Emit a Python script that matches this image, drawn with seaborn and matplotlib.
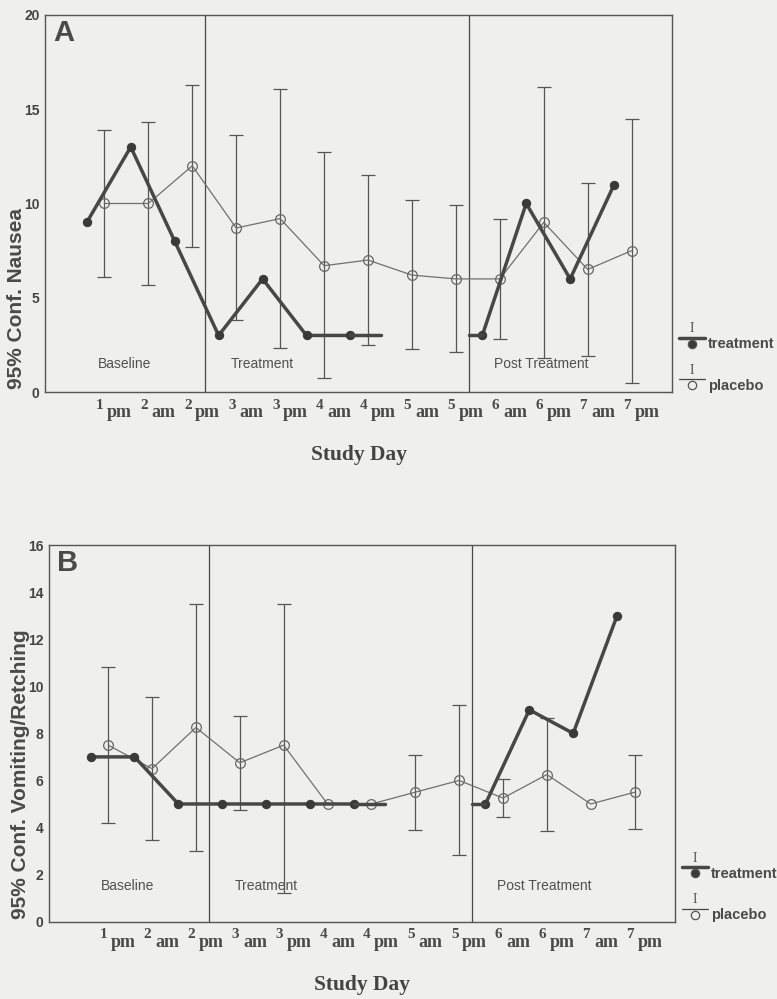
import numpy as np
import pandas as pd
import seaborn as sns
import matplotlib.pyplot as plt

# x slots: study day + half day
slot_day = ["1", "2", "2", "3", "3", "4", "4", "5", "5", "6", "6", "7", "7"]
slot_half = ["pm", "am", "pm", "am", "pm", "am", "pm", "am", "pm", "am", "pm", "am", "pm"]

# Panel A - nausea
nausea_treat = [9, 13, 8, 3, 6, 3, 3, np.nan, np.nan, 3, 10, 6, 11]
nausea_plac = [10, 10, 12, 8.7, 9.2, 6.7, 7, 6.2, 6, 6, 9, 6.5, 7.5]
nausea_plac_lo = [6.1, 5.7, 7.7, 3.8, 2.35, 0.75, 2.5, 2.3, 2.1, 2.8, 1.8, 1.9, 0.5]
nausea_plac_hi = [13.9, 14.3, 16.3, 13.65, 16.1, 12.75, 11.5, 10.2, 9.9, 9.2, 16.2, 11.1, 14.5]

# Panel B - vomiting / retching
vomit_treat = [7, 7, 5, 5, 5, 5, 5, np.nan, np.nan, 5, 9, 8, 13]
vomit_plac = [7.5, 6.5, 8.25, 6.75, 7.5, 5, 5, 5.5, 6, 5.25, 6.25, 5, 5.5]
vomit_plac_lo = [4.2, 3.45, 3.0, 4.75, 1.2, np.nan, np.nan, 3.9, 2.85, 4.45, 3.85, np.nan, 3.95]
vomit_plac_hi = [10.8, 9.55, 13.5, 8.75, 13.5, np.nan, np.nan, 7.1, 9.2, 6.05, 8.65, np.nan, 7.1]

periods = ["Baseline", "Treatment", "Post Treatment"]

BG = "#efefed"
DARK = "#474747"
MID = "#707070"

sns.set_theme(style="white")
plt.rcParams["font.family"] = ["Liberation Sans", "DejaVu Sans"]

fig = plt.figure(figsize=(7.77, 9.99), dpi=100, facecolor=BG)
ax_a = fig.add_axes([0.058, 0.6076, 0.807, 0.3774])
ax_b = fig.add_axes([0.063, 0.0774, 0.8057, 0.377])


def draw_panel(ax, treat, plac, lo, hi, ymax, ystep, ylabel, letter):
    ax.set_facecolor(BG)
    x = np.arange(len(slot_day))
    treat = np.asarray(treat, dtype=float)
    plac = np.asarray(plac, dtype=float)
    lo = np.asarray(lo, dtype=float)
    hi = np.asarray(hi, dtype=float)

    # period dividers
    for xv in (2.5, 8.5):
        ax.axvline(xv, color=DARK, lw=0.9, zorder=1)

    # placebo: error bars + thin line with open circles
    has_ci = ~np.isnan(lo)
    ax.errorbar(x[has_ci] + 0.2, plac[has_ci],
                yerr=[plac[has_ci] - lo[has_ci], hi[has_ci] - plac[has_ci]],
                fmt="none", ecolor="#555555", elinewidth=0.9, capsize=5,
                capthick=0.9, zorder=2)
    df_p = pd.DataFrame({"x": x + 0.2, "y": plac})
    sns.lineplot(data=df_p, x="x", y="y", ax=ax, color=MID, lw=0.9,
                 marker="o", markersize=7, mfc="none", mec="#666666",
                 mew=0.9, legend=False, zorder=3)

    # treatment: thick line, broken where data is missing
    df_t = pd.DataFrame({"x": x - 0.2, "y": treat,
                         "seg": np.cumsum(np.isnan(treat))}).dropna()
    sns.lineplot(data=df_t, x="x", y="y", units="seg", estimator=None,
                 ax=ax, color=DARK, lw=2.5, marker="o", markersize=6,
                 mfc="#3a3a3a", mec="#3a3a3a", legend=False, zorder=4)
    # short carry-over stubs at the gap
    ax.plot([x[6] - 0.2, 6.5], [treat[6], treat[6]], color=DARK, lw=2.5, zorder=4)
    ax.plot([8.5, x[9] - 0.2], [treat[9], treat[9]], color=DARK, lw=2.5, zorder=4)

    # period names
    for px, name in zip((0.65, 3.8, 10.15), periods):
        ax.text(px, 1.5, name, ha="center", va="center", fontsize=10,
                color="#505050")

    ax.set_xlim(-1.15, 13.12)
    ax.set_ylim(0, ymax)
    ax.set_xticks(x)
    ax.set_xticklabels([])
    ax.set_yticks(np.arange(0, ymax + 0.1, ystep))
    ax.set_yticklabels([f"{v:g}" for v in np.arange(0, ymax + 0.1, ystep)],
                       fontsize=10, fontweight="bold", color="#444444")
    ax.set_xlabel("")
    ax.set_ylabel("")
    ax.tick_params(axis="x", direction="out", length=3, width=1, color="#555555")
    ax.tick_params(axis="y", direction="out", length=3, width=1, color="#555555", pad=1)
    for sp in ax.spines.values():
        sp.set_color("#555555")
        sp.set_linewidth(1)

    # two-part tick labels: raised day number, lowered am/pm
    for i in x:
        ax.annotate(slot_day[i], xy=(i + 0.1, 0), xycoords=ax.get_xaxis_transform(),
                    xytext=(0, -9.5), textcoords="offset points", ha="center",
                    va="center", fontsize=11, family="Liberation Serif",
                    fontweight="bold", color="#4a4a4a")
        ax.annotate(slot_half[i], xy=(i + 0.55, 0), xycoords=ax.get_xaxis_transform(),
                    xytext=(0, -15), textcoords="offset points", ha="center",
                    va="center", fontsize=13, family="Liberation Serif",
                    fontweight="bold", color="#4a4a4a")

    ax.text(0.5, -0.168, "Study Day", transform=ax.transAxes, ha="center",
            va="center", fontsize=15.5, fontweight="bold",
            family="Liberation Serif", color="#444444")
    ax.text(-0.046, 0.008, ylabel, transform=ax.transAxes, rotation=90,
            ha="center", va="bottom", fontsize=15, fontweight="bold",
            color="#4a4a4a")
    ax.text(0.03, 0.952, letter, transform=ax.transAxes, ha="center",
            va="center", fontsize=21, fontweight="bold", color="#4a4a4a")

    # hand-made key on the right
    for y0, lw, mfc, lab in ((0.144, 2.5, "#3a3a3a", "treatment"),
                             (0.034, 0.9, "none", "placebo")):
        ax.plot([1.011, 1.053], [y0, y0], transform=ax.transAxes,
                clip_on=False, color=DARK, lw=lw)
        ax.plot([1.032], [y0 - 0.016], transform=ax.transAxes, clip_on=False,
                marker="o", markersize=6, mfc=mfc, mec="#555555", mew=0.9,
                linestyle="none")
        ax.text(1.032, y0 + 0.024, "I", transform=ax.transAxes, ha="center",
                va="center", fontsize=10, family="Liberation Serif",
                color="#555555")
        ax.text(1.057, y0 - 0.017, lab, transform=ax.transAxes, ha="left",
                va="center", fontsize=10.5, fontweight="bold", color="#4a4a4a")


draw_panel(ax_a, nausea_treat, nausea_plac, nausea_plac_lo, nausea_plac_hi,
           20, 5, "95% Conf. Nausea", "A")
draw_panel(ax_b, vomit_treat, vomit_plac, vomit_plac_lo, vomit_plac_hi,
           16, 2, "95% Conf. Vomiting/Retching", "B")

fig.savefig("out.png", dpi=100, facecolor=BG)
